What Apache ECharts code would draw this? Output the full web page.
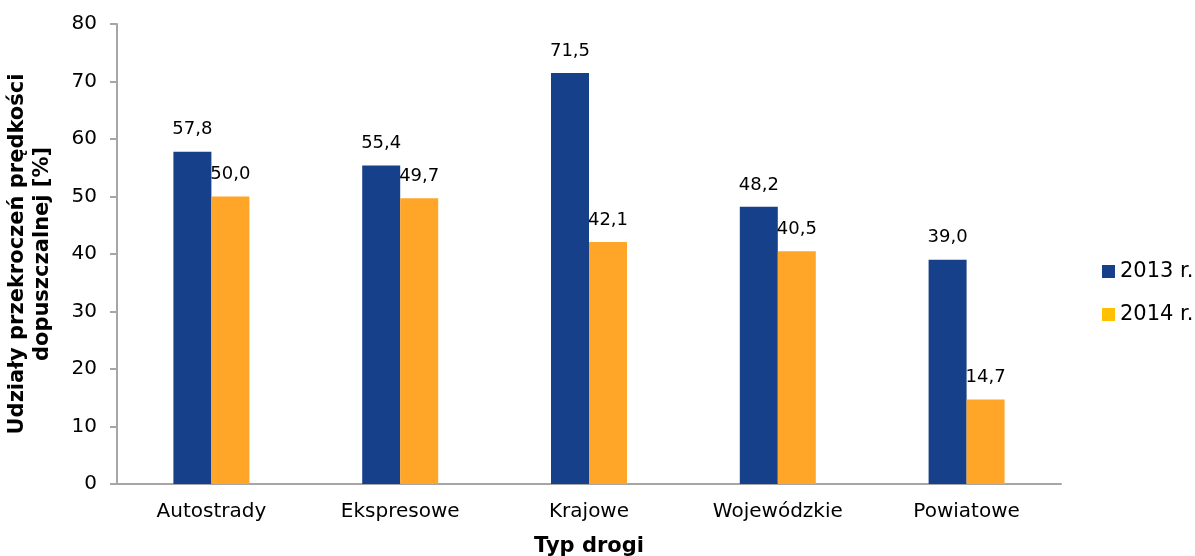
<!DOCTYPE html>
<html>
<head>
<meta charset="utf-8">
<script src="https://cdn.jsdelivr.net/npm/echarts@6/dist/echarts.min.js"></script>
<style>
  html, body { margin: 0; padding: 0; background: #fff; }
  #chart { width: 1195px; height: 556px; }
</style>
</head>
<body>
<div id="chart"></div>
<script>
// Road types and share of speed-limit violations per year
const categories = ['Autostrady', 'Ekspresowe', 'Krajowe', 'Wojewódzkie', 'Powiatowe'];
const values2013 = [57.8, 55.4, 71.5, 48.2, 39.0];
const values2014 = [50.0, 49.7, 42.1, 40.5, 14.7];
const seriesNames = ['2013 r.', '2014 r.'];
const yTicks = { min: 0, max: 80, interval: 10 };

const FONT = 'DejaVu Sans, Verdana, sans-serif';
const BLUE = '#16418A';
const ORANGE = '#FFA629';
const LEGEND_YELLOW = '#FFC000';
const AXIS_GREY = '#A6A6A6';

const fmt = v => v.toFixed(1).replace('.', ',');

const barLabel = {
  show: true, position: 'top', distance: 13,
  fontFamily: FONT, fontSize: 18, color: '#000',
  formatter: p => fmt(p.value)
};

const chart = echarts.init(document.getElementById('chart'));
chart.setOption({
  animation: false,
  textStyle: { fontFamily: FONT },
  grid: { left: 117, right: 134, top: 24, bottom: 72, containLabel: false, outerBoundsMode: 'none' },
  legend: {
    orient: 'vertical',
    left: 1097,
    top: 256,
    itemWidth: 13,
    itemHeight: 13,
    itemGap: 22,
    textStyle: { fontFamily: FONT, fontSize: 21, color: '#000' },
    data: [
      { name: seriesNames[0], icon: 'rect', itemStyle: { color: BLUE } },
      { name: seriesNames[1], icon: 'rect', itemStyle: { color: LEGEND_YELLOW } }
    ]
  },
  xAxis: {
    type: 'category',
    data: categories,
    name: 'Typ drogi',
    nameLocation: 'middle',
    nameGap: 52,
    nameTextStyle: { fontFamily: FONT, fontSize: 21, fontWeight: 'bold', color: '#000' },
    axisLine: { show: true, lineStyle: { color: AXIS_GREY, width: 2 } },
    axisTick: { show: false },
    axisLabel: { fontFamily: FONT, fontSize: 20, color: '#000', margin: 18 }
  },
  yAxis: {
    type: 'value',
    min: yTicks.min,
    max: yTicks.max,
    interval: yTicks.interval,
    name: 'Udziały przekroczeń prędkości\ndopuszczalnej [%]',
    nameLocation: 'middle',
    nameGap: 62,
    nameRotate: 90,
    nameTextStyle: { fontFamily: FONT, fontSize: 21, fontWeight: 'bold', color: '#000', lineHeight: 25 },
    axisLine: { show: true, lineStyle: { color: AXIS_GREY, width: 2 } },
    axisTick: { show: true, length: 7, inside: false, lineStyle: { color: AXIS_GREY, width: 2 } },
    splitLine: { show: false },
    axisLabel: { fontFamily: FONT, fontSize: 20, color: '#000', margin: 20 }
  },
  series: [
    {
      name: seriesNames[0],
      type: 'bar',
      data: values2013,
      barWidth: 38,
      barGap: '0%',
      itemStyle: { color: BLUE },
      label: barLabel
    },
    {
      name: seriesNames[1],
      type: 'bar',
      data: values2014,
      barWidth: 38,
      barGap: '0%',
      itemStyle: { color: ORANGE },
      label: barLabel
    }
  ]
});
</script>
</body>
</html>
